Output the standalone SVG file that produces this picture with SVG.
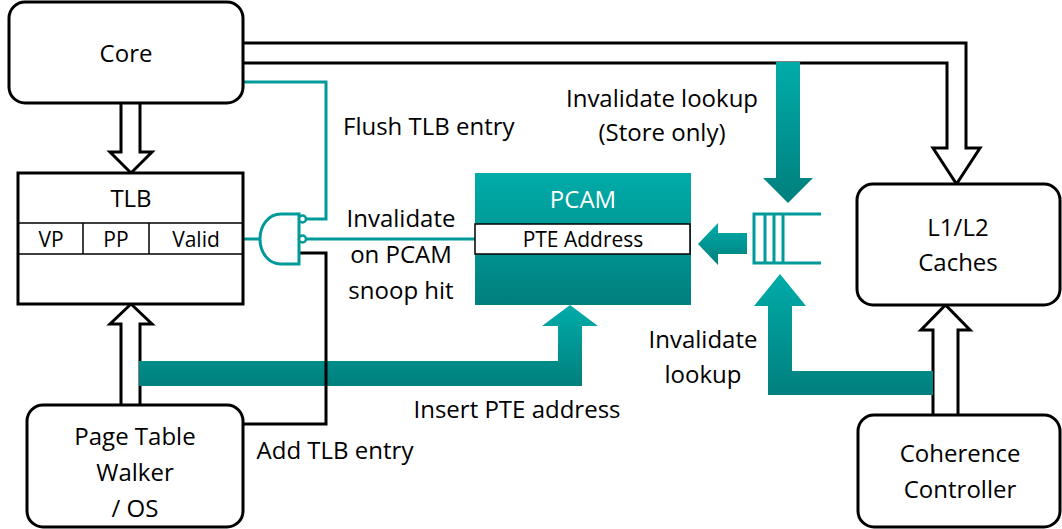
<svg xmlns="http://www.w3.org/2000/svg" width="1062" height="529" viewBox="0 0 1062 529">
  <defs>
    <linearGradient id="tealGrad" x1="0" y1="0" x2="0" y2="1">
      <stop offset="0" stop-color="#00ACA9"/>
      <stop offset="1" stop-color="#007F7D"/>
    </linearGradient>
    <style>
      text { font-family: "Open Sans", "Noto Sans", sans-serif; fill: #000; }
      .lbl { font-size: 24px; }
      .sm { font-size: 21px; }
      .mid { text-anchor: middle; }
      .box { fill: #fff; stroke: #000; stroke-width: 3; }
      .hollow { fill: #fff; stroke: #000; stroke-width: 3; stroke-linejoin: miter; }
      .thin { fill: none; stroke: #000; stroke-width: 1.5; }
      .wire { fill: none; stroke: #00999A; stroke-width: 3; }
      .wireK { fill: none; stroke: #000; stroke-width: 3; }
      .fat { fill: url(#tealGrad); }
    </style>
  </defs>

  <!-- connectors -->
  <g id="connectors">
    <!-- Core to TLB -->
    <path class="hollow" d="M121,103 V152 H110 L131,173 L152,152 H140 V103"/>
    <!-- Page Table Walker to TLB -->
    <path class="hollow" d="M121,405 V324 H110 L131,304 L152,324 H140 V405"/>
    <!-- Core to L1/L2 caches -->
    <path class="hollow" d="M243,43 H966 V148 H980 L956.5,184 L933,148 H947 V63 H243"/>
    <!-- Coherence controller to L1/L2 caches -->
    <path class="hollow" d="M933,415 V330 H921 L945.5,305 L970,330 H958 V415"/>

    <!-- flush / invalidate wires into the gate -->
    <path class="wire" d="M243,82 H326 V219 H306"/>
    <path class="wire" d="M306,239 H475"/>
    <path class="wire" d="M243,239 H260"/>

    <!-- invalidate lookup (store only) into queue -->
    <path class="fat" d="M776,62 H800 V178 H813 L788,203 L763,178 H776 Z"/>
    <!-- queue to PCAM -->
    <path class="fat" d="M747,233 V254 H718 V265 L698,244 L718,223 V233 Z"/>
    <!-- coherence invalidate lookup into queue -->
    <path class="fat" d="M933,371 V395 H768 V306 H754 L780,274 L806,306 H792 V371 Z"/>
    <!-- insert PTE address -->
    <path class="fat" d="M139,361 H558 V326 H542 L570,305 L598,326 H582 V386 H139 Z"/>

    <!-- add TLB entry -->
    <path class="wireK" d="M299,253 H326 V424 H243"/>
  </g>

  <!-- Core -->
  <g id="core">
    <rect class="box" x="9" y="2" width="234" height="101" rx="16"/>
    <text class="lbl mid" x="126" y="62">Core</text>
  </g>

  <!-- TLB -->
  <g id="tlb">
    <rect class="box" x="18" y="173" width="225" height="131"/>
    <path class="thin" d="M18,223 H243 M18,254 H243 M83,223 V254 M149,223 V254"/>
    <text class="lbl mid" x="131" y="207">TLB</text>
    <text class="sm mid" x="51" y="247">VP</text>
    <text class="sm mid" x="116" y="247">PP</text>
    <text class="sm mid" x="196" y="247">Valid</text>
  </g>

  <!-- NAND-style gate with inverted inputs -->
  <g id="gate">
    <path d="M299,214 H281 C268,214 260,226 260,239 C260,252 268,264 281,264 H299 Z" fill="#fff" stroke="#00999A" stroke-width="3"/>
    <circle cx="302.5" cy="219" r="3.5" fill="#fff" stroke="#00999A" stroke-width="2.5"/>
    <circle cx="302.5" cy="239" r="3.5" fill="#fff" stroke="#00999A" stroke-width="2.5"/>
  </g>

  <!-- PCAM -->
  <g id="pcam">
    <rect x="475" y="173" width="216" height="132" fill="url(#tealGrad)"/>
    <rect x="475" y="224" width="215" height="30" fill="#fff" stroke="#000" stroke-width="1.5"/>
    <text class="lbl mid" x="583" y="208" style="fill:#fff">PCAM</text>
    <text class="sm mid" x="583" y="247">PTE Address</text>
  </g>

  <!-- invalidation queue -->
  <g id="queue">
    <path class="wire" d="M821,214 H754 V263 H821 M765,214 V263 M774,214 V263 M783,214 V263"/>
  </g>

  <!-- L1/L2 caches -->
  <g id="caches">
    <rect class="box" x="857" y="184" width="203" height="121" rx="16"/>
    <text class="lbl mid" x="958" y="236">L1/L2</text>
    <text class="lbl mid" x="958" y="271">Caches</text>
  </g>

  <!-- Coherence controller -->
  <g id="coherence">
    <rect class="box" x="858" y="415" width="202" height="112" rx="16"/>
    <text class="lbl mid" x="960" y="462">Coherence</text>
    <text class="lbl mid" x="960" y="498">Controller</text>
  </g>

  <!-- Page table walker -->
  <g id="ptw">
    <rect class="box" x="27" y="405" width="216" height="122" rx="16"/>
    <text class="lbl mid" x="135" y="445">Page Table</text>
    <text class="lbl mid" x="135" y="481">Walker</text>
    <text class="lbl mid" x="135" y="517">/ OS</text>
  </g>

  <!-- connector labels -->
  <g id="labels">
    <text class="lbl" x="343" y="135">Flush TLB entry</text>
    <text class="lbl mid" x="662" y="107">Invalidate lookup</text>
    <text class="lbl mid" x="662" y="141">(Store only)</text>
    <text class="lbl mid" x="401" y="227">Invalidate</text>
    <text class="lbl mid" x="401" y="263">on PCAM</text>
    <text class="lbl mid" x="401" y="299">snoop hit</text>
    <text class="lbl mid" x="517" y="418">Insert PTE address</text>
    <text class="lbl mid" x="335" y="459">Add TLB entry</text>
    <text class="lbl mid" x="703" y="348">Invalidate</text>
    <text class="lbl mid" x="703" y="383">lookup</text>
  </g>
</svg>
